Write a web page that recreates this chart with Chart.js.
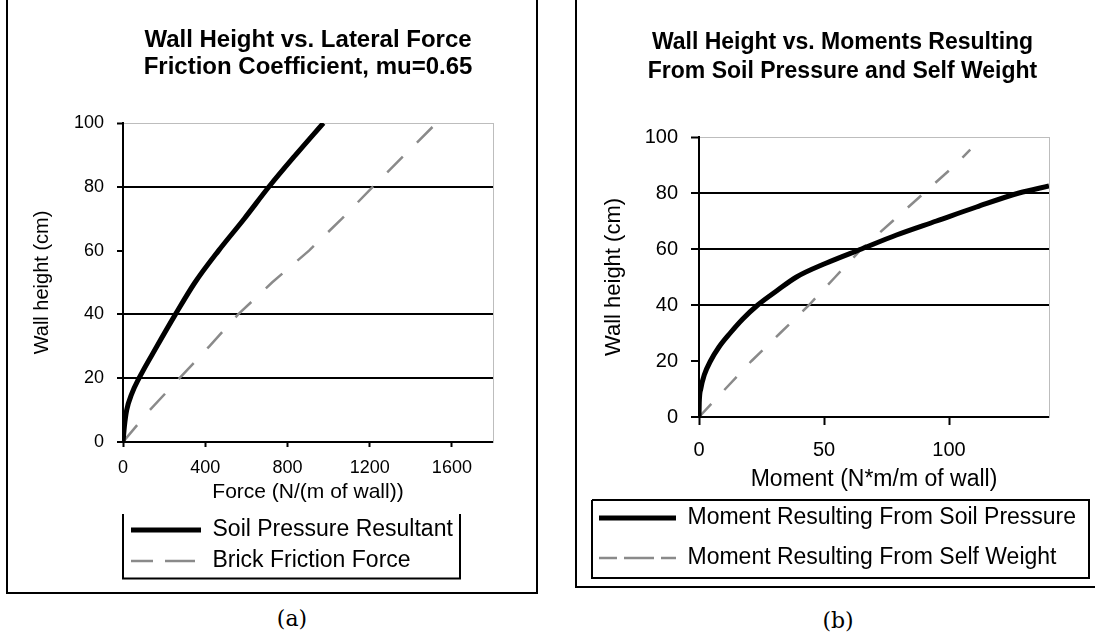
<!DOCTYPE html>
<html>
<head>
<meta charset="utf-8">
<script src="https://cdn.jsdelivr.net/npm/chart.js@4.4.1/dist/chart.umd.min.js"></script>
<style>
  html, body { margin: 0; padding: 0; background: #fff; overflow: hidden; }
  body { width: 1095px; height: 635px; position: relative; }
  .frame { position: absolute; box-sizing: border-box; border: 2px solid #000; }
  #frameA { left: 6px; top: -10px; width: 532px; height: 604px; }
  #frameB { left: 575px; top: -10px; width: 600px; height: 598px; }
  canvas { position: absolute; top: 0; }
  #chartA { left: 0; }
  #chartB { left: 576px; }
  .caption { position: absolute; width: 60px; text-align: center; font: 22px 'DejaVu Serif', serif; color: #000; }
</style>
</head>
<body>
<div class="frame" id="frameA"></div>
<div class="frame" id="frameB"></div>
<canvas id="chartA" width="545" height="600"></canvas>
<canvas id="chartB" width="527" height="600"></canvas>
<div class="caption" style="left:262px; top:606px;">(a)</div>
<div class="caption" style="left:808px; top:608px;">(b)</div>

<script>
// (a) wall height (cm) against lateral force (N per m of wall)
const heightSoilA = [0, 5, 10, 15, 20, 30, 40, 50, 60, 70, 80, 90, 100];
const soilForce = [0, 7, 18, 42, 78, 165, 255, 350, 465, 590, 710, 840, 975];
const heightBrickA = [0, 10, 20, 30, 40, 50, 60, 70, 80, 90, 100];
const brickForce = [0, 130, 275, 420, 560, 725, 905, 1065, 1215, 1370, 1525];

// (b) wall height (cm) against moment (N*m per m of wall)
const heightSoilB = [0, 5, 10, 15, 20, 25, 30, 35, 40, 45, 50, 55, 60, 65, 70, 75, 80, 82.5];
const soilMoment = [0, 0.1, 0.7, 2.1, 4.6, 8, 12.5, 17.5, 23.5, 31, 39, 51, 65, 79, 95, 111, 128, 140];
const heightSelfB = [0, 10, 20, 30, 40, 50, 60, 70, 80, 90, 95.5];
const selfMoment = [0, 10.5, 21, 32.5, 44, 54.5, 65, 77.5, 90, 102.5, 108.5];

const yTicksA = [0, 20, 40, 60, 80, 100];
const xTicksA = [0, 400, 800, 1200, 1600];
const yTicksB = [0, 20, 40, 60, 80, 100];
const xTicksB = [0, 50, 100];

// grid lines that do not show in the scanned figure
const missingGridA = [60];
const missingGridB = [20];

Chart.defaults.font.family = "'Liberation Sans', Arial, sans-serif";
Chart.defaults.color = '#000';

function pts(xs, ys) {
    return xs.map((x, i) => ({ x: x, y: ys[i] }));
}

function gridColor(missing, top) {
    return c => {
        let v = c.tick ? c.tick.value : null;
        if (v === top) return '#bdbdbd';
        if (missing.includes(v)) return 'rgba(0,0,0,0)';
        return '#000';
    };
}

// border round the legend, like the boxed legend of the spreadsheet chart
const legendBox = {
    id: 'legendBox',
    afterDraw(chart, args, o) {
        if (!o || o.left === undefined) return;
        let ctx = chart.ctx;
        ctx.save();
        ctx.strokeStyle = '#000';
        ctx.lineWidth = 2;
        ctx.beginPath();
        ctx.moveTo(o.left, o.top);
        ctx.lineTo(o.left, o.bottom);
        ctx.lineTo(o.right, o.bottom);
        ctx.lineTo(o.right, o.top);
        if (o.closed) ctx.lineTo(o.left, o.top);
        ctx.stroke();
        ctx.restore();
    }
};

// plain right-hand axis used only as the grey plot-area border
function borderAxis(w) {
    return {
        position: 'right', min: 0, max: 100,
        ticks: { display: false },
        grid: { drawOnChartArea: false, drawTicks: false },
        border: { color: '#bdbdbd', width: 1 },
        afterFit: s => { s.width = w; }
    };
}

new Chart(document.getElementById('chartA'), {
    type: 'scatter',
    data: {
        datasets: [{
            label: 'Soil Pressure Resultant',
            data: pts(soilForce, heightSoilA),
            showLine: true,
            borderColor: '#000',
            backgroundColor: '#000',
            borderWidth: 5,
            pointRadius: 0,
            cubicInterpolationMode: 'monotone'
        }, {
            label: 'Brick Friction Force',
            data: pts(brickForce, heightBrickA),
            showLine: true,
            borderColor: '#8a8a8a',
            backgroundColor: '#8a8a8a',
            borderWidth: 2.5,
            borderDash: [22, 20],
            pointRadius: 0
        }]
    },
    options: {
        responsive: false,
        animation: false,
        devicePixelRatio: 1,
        layout: { padding: { left: 0, right: 0, top: 0, bottom: 17.5 } },
        scales: {
            x: {
                type: 'linear', min: 0, max: 1800,
                afterBuildTicks: s => { s.ticks = xTicksA.map(v => ({ value: v })); },
                afterFit: s => { s.height = 68.5; },
                ticks: { font: { size: 18 }, padding: 10, maxRotation: 0, callback: v => String(v) },
                grid: { drawOnChartArea: false, tickLength: 5, tickColor: '#000', tickWidth: 2 },
                border: { color: '#000', width: 2 },
                title: { display: true, text: 'Force (N/(m of wall))', font: { size: 21 }, padding: { top: 0, bottom: 6 } }
            },
            y: {
                type: 'linear', min: 0, max: 100,
                afterBuildTicks: s => { s.ticks = yTicksA.map(v => ({ value: v })); },
                afterFit: s => { s.width = 123; },
                ticks: { font: { size: 18 }, padding: 13 },
                grid: {
                    color: gridColor(missingGridA, 100),
                    lineWidth: c => (c.tick && c.tick.value === 100) ? 1 : 2,
                    tickLength: 6, tickColor: '#000', tickWidth: 2
                },
                border: { color: '#000', width: 2 },
                title: { display: true, text: 'Wall height (cm)', font: { size: 20 }, padding: { top: 30, bottom: 0 } }
            },
            y2: borderAxis(52)
        },
        plugins: {
            title: {
                display: true,
                fullSize: false,
                text: ['Wall Height vs. Lateral Force', 'Friction Coefficient, mu=0.65'],
                font: { size: 24, weight: 'bold', lineHeight: 27 / 24 },
                color: '#000',
                padding: { top: 27, bottom: 42 }
            },
            legend: {
                position: 'bottom',
                align: 'start',
                fullSize: false,
                labels: {
                    boxWidth: 70,
                    boxHeight: 0,
                    font: { size: 23 },
                    padding: 8,
                    color: '#000'
                }
            },
            tooltip: { enabled: false },
            legendBox: { left: 123, right: 460, top: 514, bottom: 578.5, closed: false }
        }
    },
    plugins: [legendBox]
});

new Chart(document.getElementById('chartB'), {
    type: 'scatter',
    data: {
        datasets: [{
            label: 'Moment Resulting From Soil Pressure',
            data: pts(soilMoment, heightSoilB),
            showLine: true,
            borderColor: '#000',
            backgroundColor: '#000',
            borderWidth: 5,
            pointRadius: 0,
            cubicInterpolationMode: 'monotone'
        }, {
            label: 'Moment Resulting From Self Weight',
            data: pts(selfMoment, heightSelfB),
            showLine: true,
            borderColor: '#8a8a8a',
            backgroundColor: '#8a8a8a',
            borderWidth: 2.5,
            borderDash: [18, 19],
            pointRadius: 0
        }]
    },
    options: {
        responsive: false,
        animation: false,
        devicePixelRatio: 1,
        layout: { padding: { left: 6, right: 0, top: 0, bottom: 20.5 } },
        scales: {
            x: {
                type: 'linear', min: 0, max: 140,
                afterBuildTicks: s => { s.ticks = xTicksB.map(v => ({ value: v })); },
                afterFit: s => { s.height = 72.5; },
                ticks: { font: { size: 20 }, padding: 13, maxRotation: 0, callback: v => String(v) },
                grid: { drawOnChartArea: false, tickLength: 8, tickColor: '#000', tickWidth: 2 },
                border: { color: '#000', width: 2 },
                title: { display: true, text: 'Moment (N*m/m of wall)', font: { size: 23 }, padding: { top: 0, bottom: -4 } }
            },
            y: {
                type: 'linear', min: 0, max: 100,
                afterBuildTicks: s => { s.ticks = yTicksB.map(v => ({ value: v })); },
                afterFit: s => { s.width = 117; },
                ticks: { font: { size: 20 }, padding: 13 },
                grid: {
                    color: gridColor(missingGridB, 100),
                    lineWidth: c => (c.tick && c.tick.value === 100) ? 1 : 2,
                    tickLength: 8, tickColor: '#000', tickWidth: 2
                },
                border: { color: '#000', width: 2 },
                title: { display: true, text: 'Wall height (cm)', font: { size: 22 }, padding: { top: 19, bottom: 0 } }
            },
            y2: borderAxis(54)
        },
        plugins: {
            title: {
                display: true,
                text: ['Wall Height vs. Moments Resulting', 'From Soil Pressure and Self Weight'],
                font: { size: 23, weight: 'bold', lineHeight: 29 / 23 },
                color: '#000',
                padding: { top: 28.5, bottom: 50.5 }
            },
            legend: {
                position: 'bottom',
                align: 'start',
                labels: {
                    boxWidth: 77,
                    boxHeight: 0,
                    font: { size: 23 },
                    padding: 17,
                    color: '#000'
                }
            },
            tooltip: { enabled: false },
            legendBox: { left: 16, right: 513, top: 500, bottom: 578, closed: true }
        }
    },
    plugins: [legendBox]
});
</script>
</body>
</html>
